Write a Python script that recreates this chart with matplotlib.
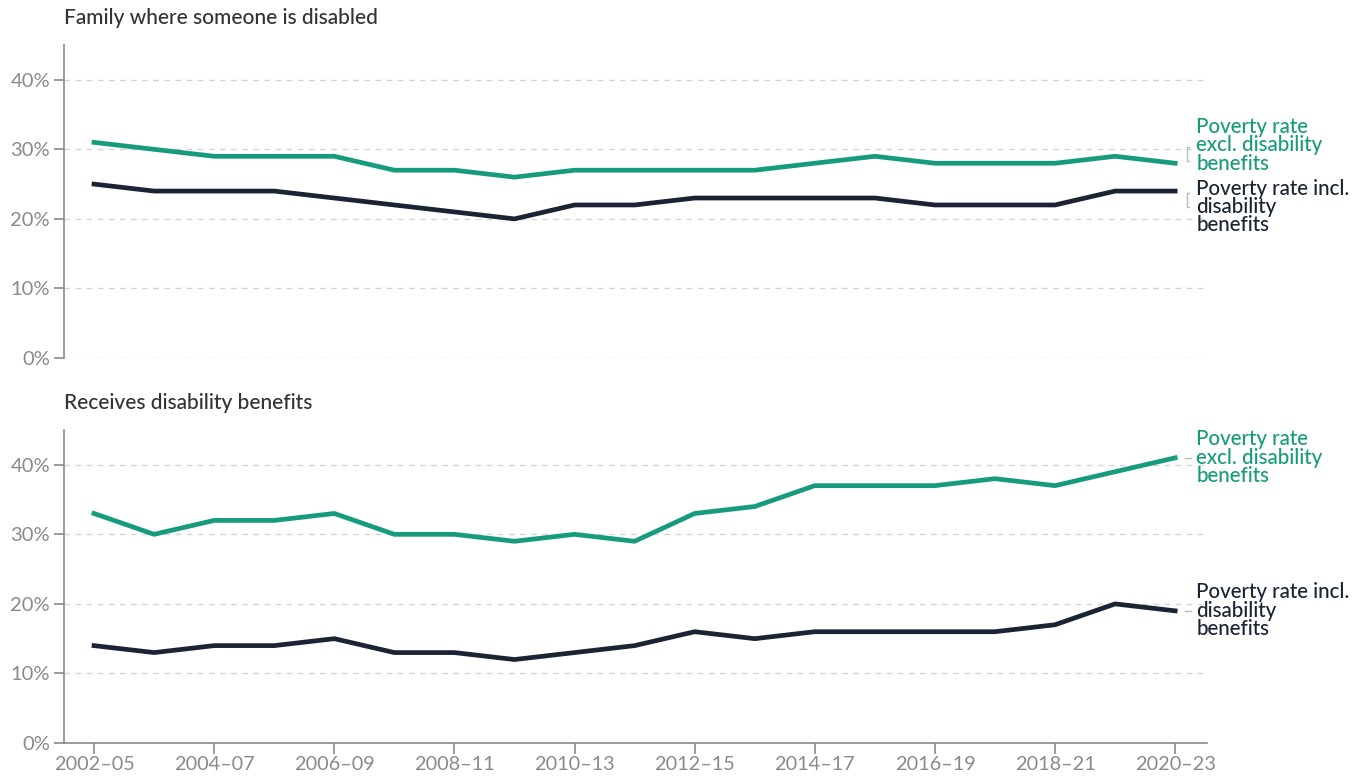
import matplotlib
matplotlib.use("Agg")
import matplotlib.pyplot as plt
from matplotlib.lines import Line2D
from matplotlib.transforms import IdentityTransform

periods = ["2002-05", "2003-06", "2004-07", "2005-08", "2006-09", "2007-10", "2008-11",
           "2009-12", "2010-13", "2011-14", "2012-15", "2013-16", "2014-17", "2015-18",
           "2016-19", "2017-20", "2018-21", "2019-22", "2020-23"]
tick_labels = ["2002–05", "2004–07", "2006–09", "2008–11", "2010–13",
               "2012–15", "2014–17", "2016–19", "2018–21", "2020–23"]

family_excl = [31, 30, 29, 29, 29, 27, 27, 26, 27, 27, 27, 27, 28, 29, 28, 28, 28, 29, 28]
family_incl = [25, 24, 24, 24, 23, 22, 21, 20, 22, 22, 23, 23, 23, 23, 22, 22, 22, 24, 24]
receives_excl = [33, 30, 32, 32, 33, 30, 30, 29, 30, 29, 33, 34, 37, 37, 37, 38, 37, 39, 41]
receives_incl = [14, 13, 14, 14, 15, 13, 13, 12, 13, 14, 16, 15, 16, 16, 16, 16, 17, 20, 19]

titles = ["Family where someone is disabled", "Receives disability benefits"]
label_excl = "Poverty rate\nexcl. disability\nbenefits"
label_incl = "Poverty rate incl.\ndisability\nbenefits"

GREEN = "#169c7c"
NAVY = "#1b2435"
GREY = "#8a8a8a"
GRID = "#d4d4d4"

plt.rcParams["font.family"] = ["Lato", "DejaVu Sans"]

W, H = 1362, 777
fig = plt.figure(figsize=(W / 100, H / 100), dpi=100)

def px_axes(left, top, right, bottom):
    return fig.add_axes([left / W, 1 - bottom / H, (right - left) / W, (bottom - top) / H])

ax1 = px_axes(64, 45, 1207, 358)
ax2 = px_axes(64, 430, 1207, 743)

x = list(range(len(periods)))
panels = [(ax1, family_excl, family_incl), (ax2, receives_excl, receives_incl)]

for i, (ax, excl, incl) in enumerate(panels):
    ax.plot(x, excl, color=GREEN, lw=3.4, solid_joinstyle="round", zorder=3)
    ax.plot(x, incl, color=NAVY, lw=3.4, solid_joinstyle="round", zorder=3)
    ax.set_xlim(-0.5, 18.53)
    ax.set_ylim(0, 45)
    ax.set_yticks([0, 10, 20, 30, 40])
    ax.set_yticklabels(["0%", "10%", "20%", "30%", "40%"])
    for y in [0, 10, 20, 30, 40]:
        ax.axhline(y, color=GRID, lw=1, ls=(0, (4, 4)), zorder=1)
    for s in ["top", "right"]:
        ax.spines[s].set_visible(False)
    ax.spines["left"].set_color(GREY)
    ax.spines["left"].set_linewidth(1.2)
    ax.tick_params(axis="y", colors=GREY, labelsize=14.5, length=7, width=1.2, pad=3)
    ax.set_xticks(list(range(0, 19, 2)))
    if i == 0:
        ax.spines["bottom"].set_visible(False)
        ax.tick_params(axis="x", bottom=False, labelbottom=False)
    else:
        ax.spines["bottom"].set_color(GREY)
        ax.spines["bottom"].set_linewidth(1.2)
        ax.set_xticklabels(tick_labels)
        ax.tick_params(axis="x", colors=GREY, labelsize=14.3, length=8, width=1.2, pad=1)
    ax.text(0, 1.0 + 17 / 313, titles[i], transform=ax.transAxes, fontsize=15,
            fontweight="medium", color="#333333", ha="left", va="bottom")

fig.canvas.draw()

def pix(ax, xv, yv):
    dx, dy = ax.transData.transform((xv, yv))
    return dx, dy

LBL_FS = 14.8
LBL_LS = 0.9
x_end = 18
tx_off = 21
for ax, val, lab, col, dy_lab in [
    (ax1, family_excl[-1], label_excl, GREEN, 18),
    (ax1, family_incl[-1], label_incl, NAVY, -16),
]:
    px, py = pix(ax, x_end, val)
    fig.text((px + tx_off) / W, (py + dy_lab) / H, lab, color=col, fontsize=LBL_FS,
             fontweight="medium", ha="left", va="center", linespacing=LBL_LS)
    bx = px + 12
    if dy_lab > 0:
        y0, y1 = py + 2, py + 16
    else:
        y0, y1 = py - 2, py - 16
    fig.add_artist(Line2D([bx + 2, bx, bx, bx + 2], [y0, y0, y1, y1], color="#bbbbbb",
                          lw=1, transform=IdentityTransform()))

for ax, val, lab, col in [
    (ax2, receives_excl[-1], label_excl, GREEN),
    (ax2, receives_incl[-1], label_incl, NAVY),
]:
    px, py = pix(ax, x_end, val)
    fig.text((px + tx_off) / W, py / H, lab, color=col, fontsize=LBL_FS,
             fontweight="medium", ha="left", va="center", linespacing=LBL_LS)
    fig.add_artist(Line2D([px + 10, px + 16], [py, py], color="#bbbbbb",
                          lw=1, transform=IdentityTransform()))

fig.savefig("out.png", dpi=100, facecolor="white")
